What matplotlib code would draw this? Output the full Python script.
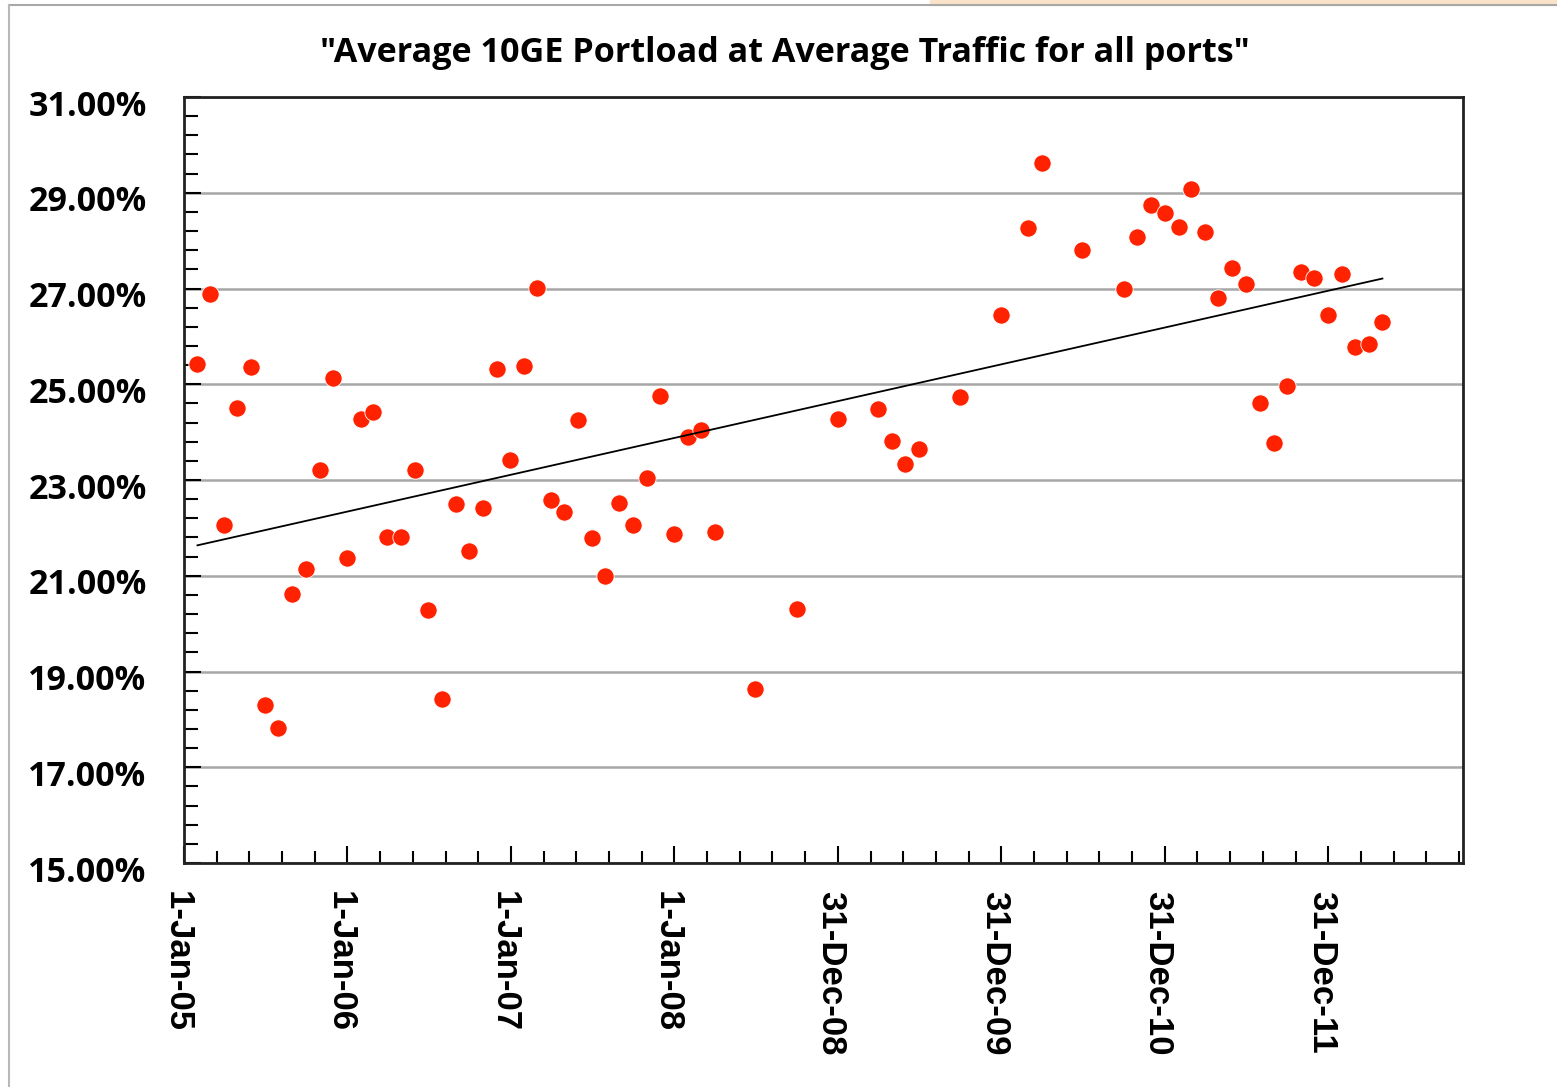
import matplotlib
matplotlib.use("Agg")
import matplotlib.pyplot as plt
import matplotlib.dates as mdates
import matplotlib.transforms as mtrans
from matplotlib.lines import Line2D
from matplotlib.patches import Rectangle
from matplotlib.ticker import FixedLocator, FuncFormatter
import numpy as np
import pandas as pd

# month number, 1 = Jan 2005 (points sit on the last day of the month)
month_num = [1, 2, 3, 4, 5, 6, 7, 8, 9, 10, 11, 12, 13, 14, 15, 16, 17, 18, 19, 20,
             21, 22, 23, 24, 25, 26, 27, 28, 29, 30, 31, 32, 33, 34, 35, 36, 37, 38, 39,
             42, 45, 48, 51, 52, 53, 54, 57, 60, 62, 63, 66,
             69, 70, 71, 72, 73, 74, 75, 76, 77, 78, 79, 80, 81, 82, 83, 84, 85, 86, 87, 88]
# average portload in percent
portload = [25.43, 26.89, 22.06, 24.51, 25.36, 18.30, 17.83, 20.62, 21.14, 23.20,
            25.14, 21.37, 24.28, 24.42, 21.80, 21.80, 23.20, 20.28, 18.43, 22.49,
            21.51, 22.41, 25.32, 23.41, 25.38, 27.02, 22.58, 22.33, 24.25, 21.78,
            21.00, 22.51, 22.06, 23.04, 24.76, 21.88, 23.90, 24.04, 21.92,
            18.63, 20.30, 24.27, 24.49, 23.82, 23.33, 23.64, 24.73, 26.45, 28.26, 29.63, 27.80,
            26.98, 28.08, 28.75, 28.58, 28.28, 29.07, 28.17, 26.80, 27.42, 27.10,
            24.61, 23.77, 24.96, 27.34, 27.22, 26.45, 27.30, 25.78, 25.84, 26.29]

title = '"Average 10GE Portload at Average Traffic for all ports"'
y_ticks = [15, 17, 19, 21, 23, 25, 27, 29, 31]

axis_start = pd.Timestamp("2005-01-01")
axis_days = 2856          # excel-ish date axis, major unit 365 days
major_step = 365
minor_step = 73

month_ends = pd.date_range("2005-01-01", periods=88, freq="MS") + pd.offsets.MonthEnd(0)
dates = month_ends[np.array(month_num) - 1]
xnum = mdates.date2num(dates.to_pydatetime())
start_num = mdates.date2num(axis_start.to_pydatetime())

W, H = 1557, 1087
fig = plt.figure(figsize=(W / 100, H / 100), dpi=100)
ax = fig.add_axes([184 / W, (H - 863) / H, (1463 - 184) / W, (863 - 97) / H])

# points
ax.scatter(xnum, portload, s=155, color="#FF2200", edgecolors="white",
           linewidths=0.6, zorder=3)

# linear trendline like excel
k, b = np.polyfit(xnum, portload, 1)
tx = np.array([xnum[0], xnum[-1]])
ax.plot(tx, k * tx + b, color="black", lw=1.3, zorder=4)

ax.set_xlim(start_num, start_num + axis_days)
ax.set_ylim(15, 31)

major_x = [start_num + i * major_step for i in range(8)]
minor_x = [start_num + i * minor_step for i in range(int(axis_days / minor_step) + 1)]
ax.xaxis.set_major_locator(FixedLocator(major_x))
ax.xaxis.set_minor_locator(FixedLocator(minor_x))


def date_label(v, pos):
    d = mdates.num2date(v)
    return f"{d.day}-{d:%b-%y}"


ax.xaxis.set_major_formatter(FuncFormatter(date_label))
ax.set_yticks(y_ticks)
ax.yaxis.set_minor_locator(FixedLocator(np.arange(15, 31.01, 0.4)))
ax.yaxis.set_major_formatter(FuncFormatter(lambda v, p: f"{v:.2f}%"))

ax.grid(axis="y", which="major", color="#A6A6A6", lw=1.8, zorder=1)
ax.set_axisbelow(True)

ax.tick_params(axis="both", which="both", direction="in", color="black", width=1.5)
ax.tick_params(axis="y", which="major", length=12, pad=27)
ax.tick_params(axis="y", which="minor", length=10)
ax.tick_params(axis="x", which="major", length=12, pad=20)
ax.tick_params(axis="x", which="minor", length=9)

shift_down = mtrans.ScaledTranslation(0, -4 / 72, fig.dpi_scale_trans)
for lab in ax.get_yticklabels():
    lab.set_fontfamily("Open Sans")
    lab.set_fontweight("bold")
    lab.set_fontsize(24.5)
    lab.set_transform(lab.get_transform() + shift_down)
shift_left = mtrans.ScaledTranslation(-5 / 72, 0, fig.dpi_scale_trans)
for lab in ax.get_xticklabels():
    lab.set_fontfamily("Liberation Sans")
    lab.set_fontweight("bold")
    lab.set_fontsize(25)
    lab.set_rotation(-90)
    lab.set_ha("center")
    lab.set_va("top")
    lab.set_transform(lab.get_transform() + shift_left)

for sp in ax.spines.values():
    sp.set_linewidth(2)
    sp.set_color("#222222")

fig.text(785 / W, 1 - 53 / H, title, ha="center", va="center",
         fontsize=24.6, fontweight="bold", family="Open Sans")

# chart frame bits around the edge
fig.patches.append(Rectangle((930 / W, 1 - 5 / H), 1 - 930 / W, 5 / H,
                             transform=fig.transFigure, color="#FBE3CA", zorder=0))
fig.lines.append(Line2D([9 / W, 1], [1 - 5 / H, 1 - 5 / H], transform=fig.transFigure,
                        color="#A8A8A8", lw=1.5))
fig.lines.append(Line2D([9 / W, 9 / W], [0, 1 - 5 / H], transform=fig.transFigure,
                        color="#B8B8B8", lw=1.5))

fig.savefig("out.png", dpi=100)
